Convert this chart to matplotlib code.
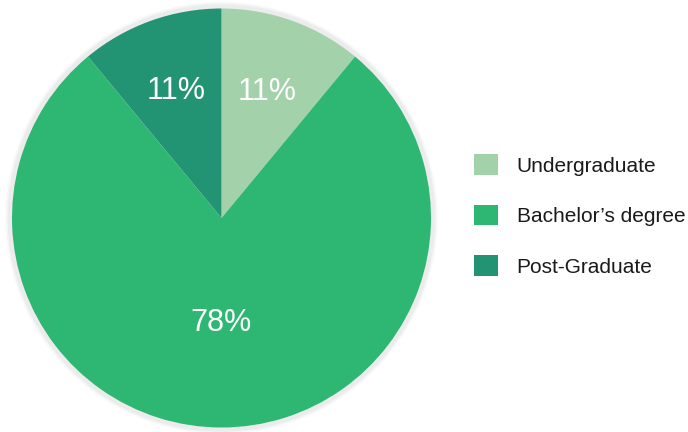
import numpy as np
import matplotlib
matplotlib.use("Agg")
from matplotlib import pyplot as plt
from matplotlib.patches import Patch, Circle

plt.rcParams['font.family'] = ['Liberation Sans', 'DejaVu Sans']

labels = ["Undergraduate", "Bachelor\u2019s degree", "Post-Graduate"]
shares = [11, 78, 11]
colors = ["#a3d1aa", "#2db773", "#239473"]
label_radius = [0.64, 0.5, 0.645]

W, H = 688, 432
fig = plt.figure(figsize=(W / 100, H / 100), dpi=100)

# pie placement in pixels
cx, cy, R = 221.5, 218, 209.5
pad = 1.06
side = 2 * R * pad
ax = fig.add_axes([(cx - side / 2) / W, (H - cy - side / 2) / H, side / W, side / H])
ax.set_xlim(-pad, pad)
ax.set_ylim(-pad, pad)
ax.set_aspect('equal')
ax.axis('off')

# soft shadow and pale rim around the pie
for i, a in enumerate([0.035, 0.03, 0.025, 0.02]):
    ax.add_patch(Circle((0.0, 0.0), 1.0 + 0.006 * (i + 1), fill=False,
                        edgecolor='black', alpha=a, lw=2.5, zorder=0))
ax.add_patch(Circle((0.0, 0.0), 1.0, fill=False, edgecolor='#ececec', lw=4, zorder=1))

wedges, _ = ax.pie(shares, colors=colors, startangle=90, counterclock=False,
                   radius=1.0, wedgeprops=dict(linewidth=0))
for w in wedges:
    w.set_zorder(2)

for w, s, r in zip(wedges, shares, label_radius):
    mid = np.deg2rad((w.theta1 + w.theta2) / 2)
    ax.text(r * np.cos(mid), r * np.sin(mid), f"{s}%", ha='center', va='center',
            color='white', fontsize=22, zorder=3)

ax.set_xlim(-pad, pad)
ax.set_ylim(-pad, pad)

handles = [Patch(facecolor=c, edgecolor='none') for c in colors]
fig.legend(handles, labels, loc='center left', bbox_to_anchor=(474 / W, (H - 215.5) / H),
           frameon=False, fontsize=15, handlelength=1.15, handleheight=1.15,
           handletextpad=0.9, labelspacing=1.4, borderpad=0, borderaxespad=0,
           labelcolor='#1a1a1a')

fig.savefig("out.png", dpi=100)
